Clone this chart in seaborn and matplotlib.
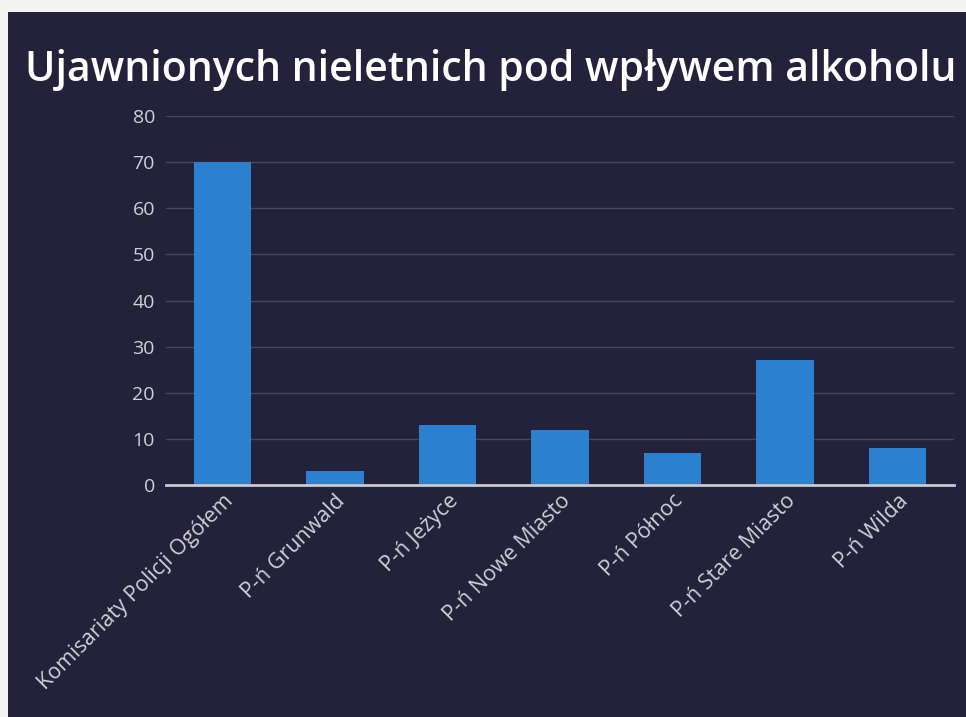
import matplotlib
matplotlib.use("Agg")
import matplotlib.pyplot as plt
import seaborn as sns
import pandas as pd
from matplotlib.patches import Rectangle

# data
categories = ['Komisariaty Policji Ogółem', 'P-ń Grunwald', 'P-ń Jeżyce', 'P-ń Nowe Miasto',
              'P-ń Północ', 'P-ń Stare Miasto', 'P-ń Wilda']
values = [70, 3, 13, 12, 7, 27, 8]
y_ticks = [0, 10, 20, 30, 40, 50, 60, 70, 80]

df = pd.DataFrame({'Komisariat': categories, 'Liczba': values})

sns.set_style('white')
plt.rcParams['font.family'] = ['Open Sans', 'DejaVu Sans']

bg = '#24213b'
fig = plt.figure(figsize=(9.66, 7.17), dpi=100, facecolor='#f4f4f2')
# slide area (the scan has a white margin at the top and left)
fig.patches.append(Rectangle((8 / 966, 0), 1, 1 - 12 / 717, transform=fig.transFigure,
                             facecolor=bg, edgecolor='none', zorder=-1))

ax = fig.add_axes([166 / 966, 1 - 485 / 717, (954 - 166) / 966, (485 - 116) / 717])
ax.set_zorder(2)
ax.set_facecolor('none')

sns.barplot(data=df, x='Komisariat', y='Liczba', color='#2b80cf', saturation=1,
            width=0.51, linewidth=0, ax=ax)

ax.set_ylim(0, 80)
ax.set_yticks(y_ticks)
ax.set_xlim(-0.5, len(categories) - 0.5)
ax.yaxis.grid(True, color='#48465e', linewidth=1)
ax.set_axisbelow(True)
for s in ['top', 'right', 'left']:
    ax.spines[s].set_visible(False)
ax.spines['bottom'].set_color('#c9c9cf')
ax.spines['bottom'].set_linewidth(2)
ax.set_xlabel('')
ax.set_ylabel('')
ax.tick_params(axis='y', colors='#cfcfd6', labelsize=14, length=0, pad=8)
ax.tick_params(axis='x', colors='#cfcfd6', labelsize=15.5, length=0, pad=4)
plt.setp(ax.get_xticklabels(), rotation=45, ha='right', rotation_mode='anchor')

fig.text(25 / 966, 1 - 70 / 717, 'Ujawnionych nieletnich pod wpływem alkoholu',
         fontsize=29.5, fontweight='semibold', color='white', va='center', ha='left')

fig.savefig('out.png', dpi=100, facecolor=fig.get_facecolor())
